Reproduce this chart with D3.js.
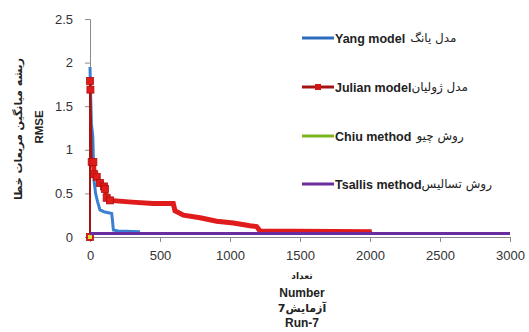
<!DOCTYPE html>
<html>
<head>
<meta charset="utf-8">
<script src="https://cdn.jsdelivr.net/npm/d3@7"></script>
<style>
  body { margin: 0; background: #fff; }
  text { font-family: "Liberation Sans", Arial, sans-serif; }
  .fa { font-family: "DejaVu Sans", sans-serif; }
</style>
</head>
<body>
<div class="chart"></div>
<script>
// chart data
var xTicks = [0, 500, 1000, 1500, 2000, 2500, 3000];
var yTicks = [0, 0.5, 1, 1.5, 2, 2.5];

var yang = [[0, 1.95], [5, 1.6], [10, 1.3], [20, 1.15], [25, 0.85], [29, 0.65], [40, 0.5],
  [55, 0.4], [71, 0.31], [100, 0.29], [155, 0.27], [160, 0.2], [167, 0.08], [200, 0.07], [357, 0.06]];
var julian = [[0, 0], [0, 1.79], [3, 1.69], [12, 0.86], [24, 0.86], [30, 0.72], [48, 0.69],
  [71, 0.62], [100, 0.58], [107, 0.55], [119, 0.45], [143, 0.42], [300, 0.4], [450, 0.385],
  [595, 0.385], [607, 0.3], [667, 0.25], [786, 0.22], [905, 0.18], [1024, 0.16], [1143, 0.13],
  [1190, 0.12], [1214, 0.07], [2012, 0.06]];
var chiu = [[0, 0]];
var tsallis = [[0, 0.04], [3000, 0.04]];

var legendEn = ['Yang model', 'Julian model', 'Chiu method', 'Tsallis method'];
var legendFa = ['مدل یانگ', 'مدل ژولیان', 'روش چیو', 'روش تسالیس'];
var colors = ['#2a6dbf', '#a51313', '#7ab51d', '#6a2da0'];

var width = 529,
    height = 332;

var svg = d3.select('.chart').append('svg')
    .attr('width', width)
    .attr('height', height);

var x = d3.scaleLinear().domain([0, 3000]).range([90, 510]);
var y = d3.scaleLinear().domain([0, 2.5]).range([237, 19]);

// axes
var xAxis = svg.append('g')
    .attr('transform', 'translate(0,237)')
    .call(d3.axisBottom(x).tickValues(xTicks).tickSize(5).tickPadding(9).tickFormat(d3.format('d')));
var yAxis = svg.append('g')
    .attr('transform', 'translate(90,0)')
    .call(d3.axisLeft(y).tickValues(yTicks).tickSize(5).tickPadding(12).tickFormat(function(d) { return d; }));

[xAxis, yAxis].forEach(function(g) {
  g.select('.domain').attr('stroke', '#8a8a8a');
  g.selectAll('.tick line').attr('stroke', '#8a8a8a');
  g.selectAll('.tick text').attr('fill', '#333').style('font-size', '13px');
});

var line = d3.line()
    .x(function(d) { return x(d[0]); })
    .y(function(d) { return y(d[1]); });

// yang
svg.append('path')
    .attr('d', line(yang))
    .attr('fill', 'none')
    .attr('stroke', '#3a7fd0')
    .attr('stroke-width', 3);

// julian: thin dark line, thick run of markers, big squares at the top
svg.append('path')
    .attr('d', line(julian))
    .attr('fill', 'none')
    .attr('stroke', '#a51313')
    .attr('stroke-width', 2);
svg.append('path')
    .attr('d', line(julian.slice(3)))
    .attr('fill', 'none')
    .attr('stroke', '#e01b1b')
    .attr('stroke-width', 5);
svg.selectAll('.jm')
    .data(julian.slice(0, 12))
  .enter().append('rect')
    .attr('class', 'jm')
    .attr('x', function(d) { return x(d[0]) - 3.5; })
    .attr('y', function(d) { return y(d[1]) - 3.5; })
    .attr('width', 7)
    .attr('height', 7)
    .attr('fill', '#e01b1b')
    .attr('stroke', '#b01010')
    .attr('stroke-width', 0.8);

// chiu (only the start point shows)
svg.append('path')
    .attr('d', line(chiu))
    .attr('fill', 'none')
    .attr('stroke', colors[2])
    .attr('stroke-width', 3);
svg.selectAll('.cm')
    .data(chiu)
  .enter().append('rect')
    .attr('x', function(d) { return x(d[0]) - 2; })
    .attr('y', function(d) { return y(d[1]) - 2; })
    .attr('width', 4)
    .attr('height', 4)
    .attr('fill', '#d8e23a');

// tsallis
svg.append('path')
    .attr('d', line(tsallis))
    .attr('fill', 'none')
    .attr('stroke', colors[3])
    .attr('stroke-width', 3);

// legend
var legendY = [38, 87, 136, 184];
legendEn.forEach(function(name, i) {
  var g = svg.append('g');
  g.append('line')
      .attr('x1', 302).attr('x2', 334)
      .attr('y1', legendY[i]).attr('y2', legendY[i])
      .attr('stroke', colors[i])
      .attr('stroke-width', 3);
  if (i == 1) {
    g.append('rect')
        .attr('x', 315).attr('y', legendY[i] - 3)
        .attr('width', 6).attr('height', 6)
        .attr('fill', '#d01515');
  }
  var t = g.append('text')
      .attr('x', 335)
      .attr('y', legendY[i] + 4.5)
      .style('font-size', '12.5px')
      .style('font-weight', 'bold')
      .attr('fill', '#222')
      .text(name);
  var w = t.node().getComputedTextLength();
  var gap = (i == 0 || i == 2) ? 5 : 0;
  g.append('text')
      .attr('class', 'fa')
      .attr('x', 335 + w + gap)
      .attr('y', legendY[i] + 4)
      .attr('direction', 'rtl')
      .attr('text-anchor', 'end')
      .style('font-size', '12px')
      .attr('fill', '#222')
      .text(legendFa[i]);
});

// axis titles
svg.append('text')
    .attr('class', 'fa')
    .attr('transform', 'translate(22,129) rotate(-90)')
    .attr('text-anchor', 'middle')
    .style('font-size', '11px')
    .style('font-weight', 'bold')
    .attr('fill', '#222')
    .text('ریشه میانگین مربعات خطا');
svg.append('text')
    .attr('transform', 'translate(43,127) rotate(-90)')
    .attr('text-anchor', 'middle')
    .style('font-size', '11.5px')
    .style('font-weight', 'bold')
    .attr('fill', '#222')
    .text('RMSE');

var xTitle = [['تعداد', 279, '9px', true], ['Number', 297, '12px', false],
  ['آزمایش7', 312, '11px', true], ['Run-7', 327, '12px', false]];
xTitle.forEach(function(r) {
  svg.append('text')
      .attr('class', r[3] ? 'fa' : null)
      .attr('x', 302)
      .attr('y', r[1])
      .attr('text-anchor', 'middle')
      .style('font-size', r[2])
      .style('font-weight', 'bold')
      .attr('fill', '#222')
      .text(r[0]);
});
</script>
</body>
</html>
